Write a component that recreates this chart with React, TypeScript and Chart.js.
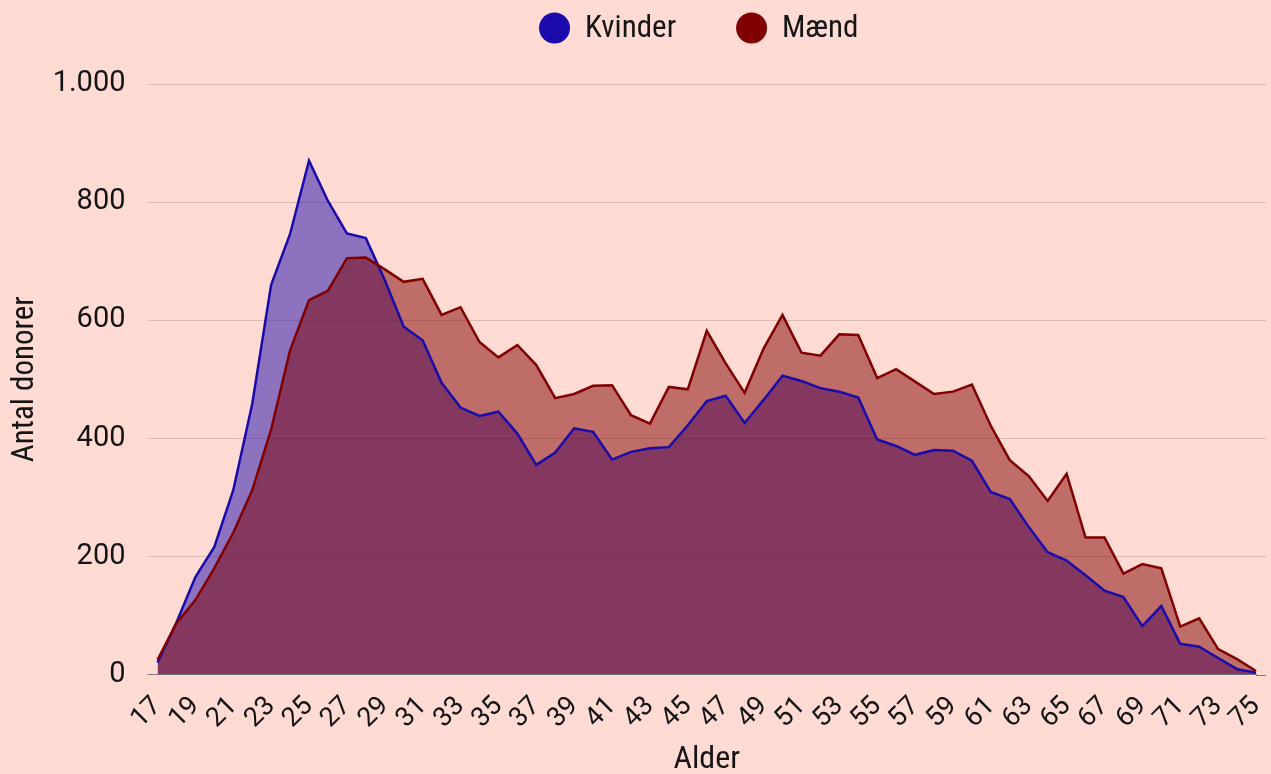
import React, { useEffect, useRef } from 'react';
import { Chart, registerables } from 'chart.js';

Chart.register(...registerables);

const ages = [
  '17', '18', '19', '20', '21', '22', '23', '24', '25', '26', '27', '28', '29', '30',
  '31', '32', '33', '34', '35', '36', '37', '38', '39', '40', '41', '42', '43', '44',
  '45', '46', '47', '48', '49', '50', '51', '52', '53', '54', '55', '56', '57', '58',
  '59', '60', '61', '62', '63', '64', '65', '66', '67', '68', '69', '70', '71', '72',
  '73', '74', '75',
];

const kvinder = [
  20, 88, 165, 216, 312, 458, 660, 746, 870, 802, 747, 739, 668, 589,
  566, 494, 452, 438, 445, 408, 355, 376, 417, 411, 364, 377, 383, 385,
  422, 463, 472, 426, 465, 506, 497, 485, 479, 469, 398, 387, 372, 380,
  379, 362, 309, 297, 250, 207, 193, 168, 142, 131, 82, 116, 52, 47,
  28, 9, 3,
];

const maend = [
  25, 87, 126, 180, 240, 312, 415, 549, 634, 650, 705, 706, 686, 665,
  670, 609, 622, 563, 537, 558, 524, 468, 475, 489, 490, 439, 425, 487,
  483, 582, 527, 477, 552, 609, 545, 540, 576, 575, 502, 517, 496, 475,
  479, 491, 421, 363, 336, 294, 340, 232, 232, 171, 187, 180, 81, 95,
  43, 26, 6,
];

const seriesLabels = ['Kvinder', 'Mænd'];
const yTicks = [0, 200, 400, 600, 800, 1000];
const axisTitles = { x: 'Alder', y: 'Antal donorer' };

const BG = '#FFDBD3';
const BLUE = '#1A0AAB';
const RED = '#800000';
const TEXT = '#141414';
const COND = "'Roboto Condensed', 'Liberation Sans Narrow', 'DejaVu Sans Condensed', 'Arial Narrow', Roboto, sans-serif";
const TICKFONT = "Roboto, 'Noto Sans', sans-serif";

function formatDa(v: number): string {
  const s = String(Math.round(v));
  return s.replace(/\B(?=(\d{3})+(?!\d))/g, '.');
}

const legendPlugin = {
  id: 'customLegend',
  afterDraw(chart: any) {
    const ctx = chart.ctx as CanvasRenderingContext2D;
    const area = chart.chartArea;
    const items = chart.data.datasets.map((ds: any) => ({ text: ds.label, color: ds.legendColor }));
    ctx.save();
    ctx.font = `31px ${COND}`;
    const r = 15.5;
    const gap = 15;
    const between = 60;
    const widths = items.map((it: any) => 2 * r + gap + ctx.measureText(it.text).width);
    const total = widths.reduce((a: number, b: number) => a + b, 0) + between * (items.length - 1);
    let x = (area.left + area.right) / 2 - 8 - total / 2;
    const y = 28;
    items.forEach((it: any, i: number) => {
      ctx.beginPath();
      ctx.fillStyle = it.color;
      ctx.arc(x + r, y, r, 0, Math.PI * 2);
      ctx.fill();
      ctx.fillStyle = TEXT;
      ctx.textBaseline = 'middle';
      ctx.textAlign = 'left';
      ctx.fillText(it.text, x + 2 * r + gap, y + 1);
      x += widths[i] + between;
    });
    ctx.restore();
  },
};

const gridExtendPlugin = {
  id: 'gridExtend',
  afterDraw(chart: any) {
    const ctx = chart.ctx as CanvasRenderingContext2D;
    const y = chart.scales.y;
    const area = chart.chartArea;
    ctx.save();
    y.ticks.forEach((t: any) => {
      const py = Math.round(y.getPixelForValue(t.value)) + 0.5;
      ctx.beginPath();
      ctx.strokeStyle = t.value === 0 ? '#7a7a7a' : 'rgba(0,0,0,0.14)';
      ctx.lineWidth = 1;
      ctx.moveTo(area.right, py);
      ctx.lineTo(area.right + 10, py);
      ctx.stroke();
    });
    ctx.restore();
  },
};

export default function App() {
  const canvasRef = useRef<HTMLCanvasElement | null>(null);

  useEffect(() => {
    if (!canvasRef.current) return;
    const chart = new Chart(canvasRef.current, {
      type: 'line',
      data: {
        labels: ages,
        datasets: [
          {
            label: seriesLabels[0],
            data: kvinder,
            borderColor: BLUE,
            backgroundColor: 'rgba(26,10,171,0.5)',
            legendColor: BLUE,
            borderWidth: 2.5,
            pointRadius: 0,
            fill: 'origin',
            tension: 0,
            order: 1,
          } as any,
          {
            label: seriesLabels[1],
            data: maend,
            borderColor: RED,
            backgroundColor: 'rgba(128,0,0,0.5)',
            legendColor: RED,
            borderWidth: 2.5,
            pointRadius: 0,
            fill: 'origin',
            tension: 0,
            order: 0,
          } as any,
        ],
      },
      options: {
        animation: false,
        responsive: true,
        maintainAspectRatio: false,
        layout: { padding: { top: 84, right: 15, bottom: 0, left: 0 } },
        plugins: {
          legend: { display: false },
          tooltip: { enabled: false },
          filler: { drawTime: 'beforeDatasetsDraw' },
        } as any,
        scales: {
          x: {
            type: 'category',
            offset: false,
            grid: { display: false, drawTicks: false },
            border: { display: true, color: '#7a7a7a', width: 1 },
            ticks: {
              autoSkip: false,
              minRotation: 45,
              maxRotation: 45,
              padding: 16,
              color: TEXT,
              font: { family: TICKFONT, size: 27 },
              callback: (_v: any, i: number) => (i % 2 === 0 ? ages[i] : ''),
            },
            title: {
              display: true,
              text: axisTitles.x,
              color: TEXT,
              font: { family: COND, size: 32, lineHeight: 1 },
              padding: { top: 0, bottom: -2 },
            },
            afterFit: (scale: any) => {
              scale.height = 99.5;
              scale.paddingRight = 15;
              scale.paddingLeft = 0;
            },
          },
          y: {
            min: 0,
            max: 1000,
            grid: {
              color: (c: any) => (c.tick && c.tick.value === 0 ? '#7a7a7a' : 'rgba(0,0,0,0.14)'),
              lineWidth: 1,
              drawTicks: true,
              tickLength: 10,
            },
            border: { display: false },
            afterBuildTicks: (scale: any) => {
              scale.ticks = yTicks.map((v) => ({ value: v }));
            },
            ticks: {
              padding: 22,
              color: TEXT,
              font: { family: TICKFONT, size: 29 },
              callback: (v: any) => formatDa(Number(v)),
            },
            title: {
              display: true,
              text: axisTitles.y,
              color: TEXT,
              font: { family: COND, size: 31, lineHeight: 1 },
              padding: { top: 10, bottom: 0 },
            },
            afterFit: (scale: any) => {
              scale.width = 157.5;
            },
          },
        },
      } as any,
      plugins: [legendPlugin, gridExtendPlugin],
    });
    return () => chart.destroy();
  }, []);

  return (
    <div
      style={{
        position: 'fixed',
        left: 0,
        top: 0,
        width: 1271,
        height: 774,
        background: BG,
      }}
    >
      <canvas ref={canvasRef} />
    </div>
  );
}
